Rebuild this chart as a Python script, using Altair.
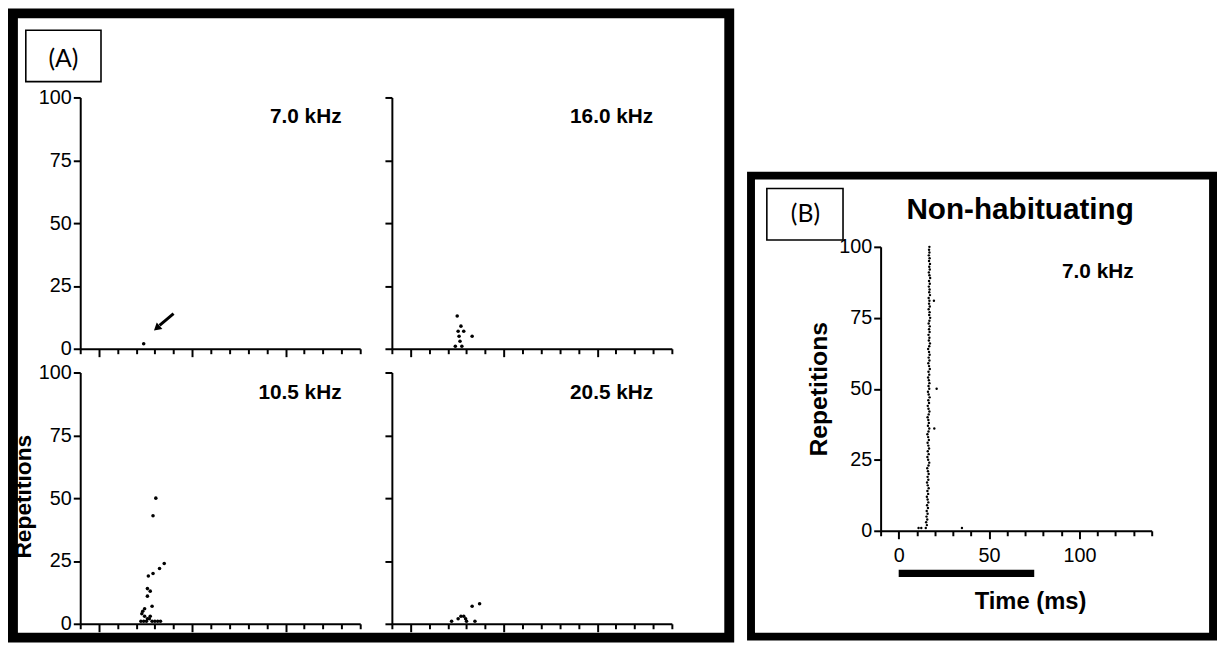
import altair as alt
import pandas as pd

# ---------------- data ----------------
x_domain = [-10, 140]
y_domain = [0, 100]
x_tick_values = [-10, 0, 10, 20, 30, 40, 50, 60, 70, 80, 90, 100, 110, 120, 130, 140]
y_tick_values = [0, 25, 50, 75, 100]

freq_labels = ["7.0 kHz", "16.0 kHz", "10.5 kHz", "20.5 kHz"]
label_t = [130]
label_rep = [92]

# Panel A rasters (spike time in ms, repetition number)
a7_t = [24.0]
a7_rep = [2]
a16_t = [25.0, 27.0, 25.5, 28.5, 33.0, 26.0, 26.5, 24.0, 27.5]
a16_rep = [13, 9, 7, 7, 5, 5, 3, 1, 1]
a105_t = [30.5, 29.0, 35.0, 32.5, 29.0, 26.5, 26.0, 27.5, 26.0, 28.5, 24.5, 23.5,
          23.0, 24.5, 26.0, 27.5, 22.5, 24.0, 25.5, 27.0, 28.5, 30.0, 31.5, 33.0]
a105_rep = [50, 43, 24, 22, 20, 19, 14, 13, 11, 7, 6, 5,
            4, 3, 2, 3, 1, 1, 1, 2, 1, 1, 1, 1]
a205_t = [37.0, 33.0, 27.0, 28.5, 29.5, 25.5, 30.0, 34.5, 22.0]
a205_rep = [8, 7, 3, 3, 2, 2, 1, 1, 1]

# arrow annotation in the 7.0 kHz panel
arrow_t = [40.0]
arrow_t2 = [32.5]
arrow_rep = [14.0]
arrow_rep2 = [9.3]
arrow_head_t = [31.0]
arrow_head_rep = [8.2]

# Panel B raster
b_rep = [1, 2, 3, 4, 5, 6, 7, 8, 9, 10, 11, 12, 13, 14, 15, 16, 17, 18, 19, 20,
         21, 22, 23, 24, 25, 26, 27, 28, 29, 30, 31, 32, 33, 34, 35, 36, 37, 38, 39, 40,
         41, 42, 43, 44, 45, 46, 47, 48, 49, 50, 51, 52, 53, 54, 55, 56, 57, 58, 59, 60,
         61, 62, 63, 64, 65, 66, 67, 68, 69, 70, 71, 72, 73, 74, 75, 76, 77, 78, 79, 80,
         81, 82, 83, 84, 85, 86, 87, 88, 89, 90, 91, 92, 93, 94, 95, 96, 97, 98, 99, 100]
b_t = [15.0, 15.6, 15.2, 15.8, 15.4, 16.0, 15.5, 16.2, 15.7, 16.4,
       16.0, 15.6, 16.3, 15.9, 16.6, 16.1, 15.7, 16.4, 16.0, 16.6,
       16.2, 15.8, 16.5, 16.9, 16.3, 15.9, 16.6, 16.1, 16.8, 16.4,
       16.0, 16.7, 16.3, 15.9, 16.5, 16.9, 16.2, 16.7, 16.4, 16.0,
       16.6, 17.0, 16.5, 16.1, 16.8, 16.4, 17.1, 16.6, 16.2, 16.9,
       16.5, 17.0, 16.7, 16.3, 16.9, 16.5, 17.2, 16.8, 16.4, 17.0,
       16.6, 17.1, 16.8, 16.3, 16.9, 17.3, 16.7, 17.0, 16.5, 17.1,
       16.8, 17.2, 16.6, 17.0, 17.4, 16.9, 17.1, 16.6, 17.2, 16.8,
       17.0, 16.6, 17.3, 16.9, 17.1, 16.7, 17.2, 16.8, 17.4, 17.0,
       16.7, 17.2, 16.9, 17.3, 16.8, 17.1, 16.7, 17.0, 16.8, 17.0]
b_extra_t = [19.5, 21.0, 19.7, 11.0, 12.5, 35.0]
b_extra_rep = [81, 50, 36, 1, 1, 1]
b_label = ["7.0 kHz"]
b_label_t = [130]
b_label_rep = [91]
stim_start = [0]
stim_end = [75]

title_b = ["Non-habituating"]
panel_tags = ["(A)", "(B)"]

FONT = "Liberation Sans"
A_W, A_H = 283, 254
# panel B lives in a third grid column; its scales are placed with explicit ranges
B_X0 = 179            # left edge of B's x range inside its cell
B_W = B_X0 + 274
B_XRANGE = [B_X0, B_X0 + 274]
B_YRANGE = [438, 151]


def x_enc(show_labels, title=None, xrange=None, offset=0, title_x=150):
    kw = dict(
        values=x_tick_values, grid=False, domainColor="black", domainWidth=2,
        tickColor="black", tickWidth=2,
        tickSize={"condition": {"test": "datum.value % 50 === 0", "value": 8}, "value": 5},
        labels=show_labels, offset=offset,
    )
    if show_labels:
        kw.update(labelExpr="datum.value % 50 === 0 ? datum.label : ''",
                  labelFont=FONT, labelFontSize=20, labelColor="black",
                  labelPadding=7, labelOverlap=False)
    if title:
        kw.update(title=title, titleFont=FONT, titleFontSize=24, titleFontWeight="bold",
                  titleColor="black", titleX=title_x, titleY=79, titleBaseline="alphabetic",
                  titleAlign="center")
    else:
        kw.update(title=None)
    if xrange is not None:
        sc = alt.Scale(domain=x_domain, range=xrange, nice=False, zero=False)
    else:
        sc = alt.Scale(domain=x_domain, nice=False, zero=False)
    return alt.X("t:Q", scale=sc, axis=alt.Axis(**kw))


def y_enc(show_labels, title=None, title_x=-45, title_y=127, title_size=23, yrange=None, offset=0):
    kw = dict(
        values=y_tick_values, grid=False, domainColor="black", domainWidth=2,
        tickColor="black", tickWidth=2, tickSize=7, labels=show_labels, offset=offset,
    )
    if show_labels:
        kw.update(labelFont=FONT, labelFontSize=20, labelColor="black", labelPadding=2)
    if title:
        kw.update(title=title, titleFont=FONT, titleFontSize=title_size, titleFontWeight="bold",
                  titleColor="black", titleX=title_x, titleY=title_y,
                  titleBaseline="bottom", titleAlign="center", titleAngle=270)
    else:
        kw.update(title=None)
    if yrange is not None:
        sc = alt.Scale(domain=y_domain, range=yrange, nice=False, zero=False)
    else:
        sc = alt.Scale(domain=y_domain, nice=False, zero=False)
    return alt.Y("rep:Q", scale=sc, axis=alt.Axis(**kw))


def raster(ts, reps, X, Y, size):
    df = pd.DataFrame({"t": ts, "rep": reps})
    return alt.Chart(df).mark_circle(size=size, color="black", opacity=1).encode(x=X, y=Y)


def freq_text(label, X, Y, t, rep):
    df = pd.DataFrame({"t": t, "rep": rep, "txt": [label]})
    return alt.Chart(df).mark_text(
        align="right", baseline="middle", font=FONT, fontWeight="bold",
        fontSize=21, color="black"
    ).encode(x=X, y=Y, text="txt:N")


one = pd.DataFrame({"k": [0]})


def frame(x1, x2, y1, y2, sw):
    return alt.Chart(one).mark_rect(fill="transparent", stroke="black", strokeWidth=sw).encode(
        x=alt.value(x1), x2=alt.value(x2), y=alt.value(y1), y2=alt.value(y2))


def tag_box(x1, x2, y1, y2, tag, cx, cy):
    box = alt.Chart(one).mark_rect(fill="white", stroke="black", strokeWidth=1.6).encode(
        x=alt.value(x1), x2=alt.value(x2), y=alt.value(y1), y2=alt.value(y2))
    txt = alt.Chart(pd.DataFrame({"txt": [tag]})).mark_text(
        font="Lato", fontSize=25, color="black", align="center", baseline="middle"
    ).encode(x=alt.value(cx), y=alt.value(cy), text="txt:N")
    return [box, txt]


# ---------- Panel A ----------
X_tl = x_enc(False)
Y_tl = y_enc(True)
arrow_df = pd.DataFrame({"t": arrow_t, "t2": arrow_t2, "rep": arrow_rep, "rep2": arrow_rep2})
arrow_line = alt.Chart(arrow_df).mark_rule(color="black", strokeWidth=3).encode(
    x=X_tl, x2="t2:Q", y=Y_tl, y2="rep2:Q")
arrow_head = alt.Chart(pd.DataFrame({"t": arrow_head_t, "rep": arrow_head_rep})).mark_point(
    shape="triangle-up", filled=True, size=75, angle=229, color="black", opacity=1
).encode(x=X_tl, y=Y_tl)

tl = alt.layer(
    frame(-68, 656, -85, 546, 10),
    raster(a7_t, a7_rep, X_tl, Y_tl, 13),
    freq_text(freq_labels[0], X_tl, Y_tl, label_t, label_rep),
    arrow_line, arrow_head,
    *tag_box(-55, 21, -68, -16, panel_tags[0], -17, -39),
).properties(width=A_W, height=A_H)

X_tr = x_enc(False)
Y_tr = y_enc(False)
tr = alt.layer(
    raster(a16_t, a16_rep, X_tr, Y_tr, 13),
    freq_text(freq_labels[1], X_tr, Y_tr, label_t, label_rep),
).properties(width=A_W, height=A_H)

X_bl = x_enc(False)
Y_bl = y_enc(True, title="Repetitions", title_x=-45, title_y=125, title_size=23)
bl = alt.layer(
    raster(a105_t, a105_rep, X_bl, Y_bl, 13),
    freq_text(freq_labels[2], X_bl, Y_bl, label_t, label_rep),
).properties(width=A_W, height=A_H)

X_br = x_enc(False)
Y_br = y_enc(False)
br = alt.layer(
    raster(a205_t, a205_rep, X_br, Y_br, 13),
    freq_text(freq_labels[3], X_br, Y_br, label_t, label_rep),
).properties(width=A_W, height=A_H)

# ---------- Panel B ----------
X_b = x_enc(True, title="Time (ms)", xrange=B_XRANGE, offset=B_YRANGE[0] - A_H,
            title_x=B_X0 + 151)
Y_b = y_enc(True, title="Repetitions", title_x=-50, title_y=294.5, title_size=25,
            yrange=B_YRANGE, offset=-B_X0)
stim = alt.Chart(pd.DataFrame({"t": stim_start, "t2": stim_end})).mark_rule(
    color="black", strokeWidth=7.5, strokeCap="butt"
).encode(x=X_b, x2="t2:Q", y=alt.value(481))
b_title = alt.Chart(pd.DataFrame({"txt": title_b})).mark_text(
    font=FONT, fontSize=30, fontWeight="bold", color="black", align="center", baseline="alphabetic"
).encode(x=alt.value(B_X0 + 141), y=alt.value(123), text="txt:N")

bchart = alt.layer(
    frame(B_X0 - 131, B_X0 + 336, 79, 545, 8),
    raster(b_t, b_rep, X_b, Y_b, 6),
    raster(b_extra_t, b_extra_rep, X_b, Y_b, 6),
    freq_text(b_label[0], X_b, Y_b, b_label_t, b_label_rep),
    stim, b_title,
    *tag_box(B_X0 - 115, B_X0 - 38, 92, 144, panel_tags[1], B_X0 - 76, 118),
).properties(width=B_W, height=A_H)

chart = alt.concat(
    tl, tr, bchart, bl, br,
    columns=3, align="each", bounds="flush",
    spacing={"row": 24, "column": 32},
).properties(
    padding={"left": 0, "top": -3, "right": 0, "bottom": -2},
    background="white",
).configure_view(stroke=None)

chart.save("out.html", embed_options={"renderer": "svg", "actions": False})
